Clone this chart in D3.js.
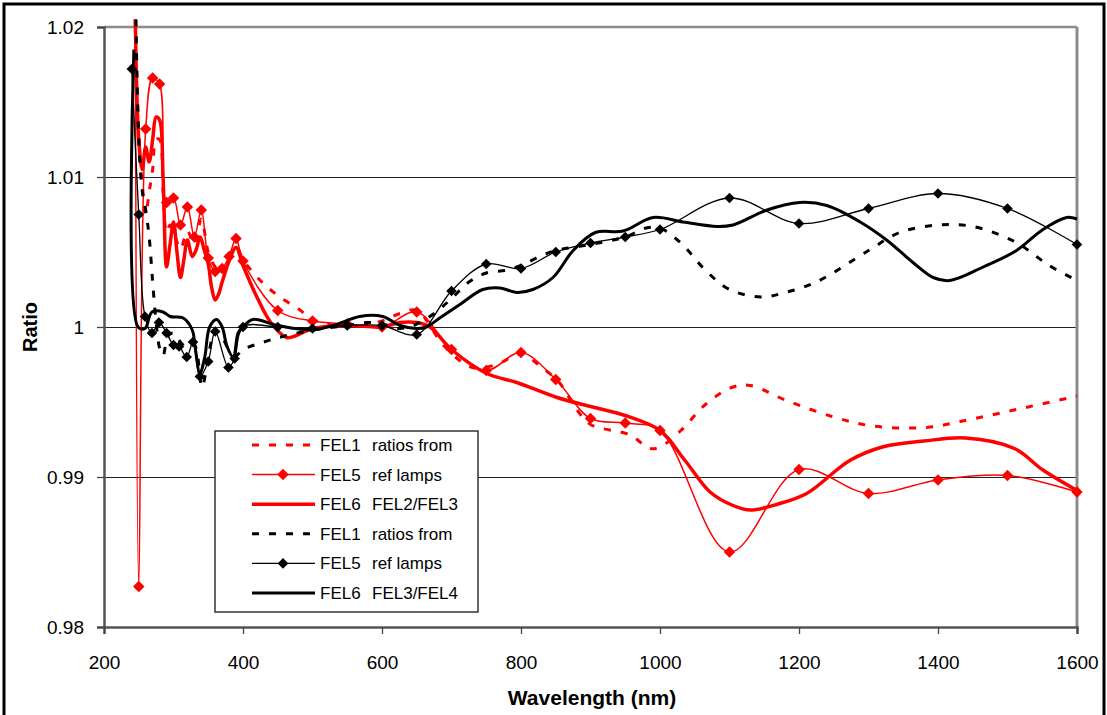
<!DOCTYPE html>
<html>
<head>
<meta charset="utf-8">
<script src="https://cdn.jsdelivr.net/npm/d3@7"></script>
<style>
  html, body { margin: 0; padding: 0; background: #fff; }
  svg { display: block; font-family: "Liberation Sans", Arial, sans-serif; }
</style>
</head>
<body>
<svg id="chart" width="1107" height="715"></svg>
<script>
// Ratios of FEL lamp calibrations, [wavelength nm, ratio]
const redFEL1 = [
  [245,1.0205],[250,1.0130],[255,1.0095],[260,1.0075],[265,1.0090],[270,1.0105],[275,1.0125],[280,1.0125],
  [285,1.0090],[290,1.0063],[295,1.0068],[300,1.0064],[310,1.0052],[320,1.0064],[330,1.0055],[340,1.0072],
  [350,1.0050],[360,1.0040],[370,1.0036],[380,1.0046],[390,1.0054],[400,1.0045],[425,1.0031],[450,1.0021],
  [480,1.0012],[500,1.0005],[550,1.0000],[600,1.0004],[626,1.0009],[650,1.0011],[690,0.9987],[730,0.9973],
  [765,0.9975],[800,0.9982],[830,0.9973],[855,0.9963],[880,0.9945],[900,0.9935],[957,0.9928],[985,0.9919],
  [1000,0.9920],[1030,0.9931],[1067,0.9949],[1105,0.9960],[1130,0.9961],[1182,0.9951],[1250,0.9940],
  [1306,0.9934],[1384,0.9933],[1432,0.9937],[1513,0.9945],[1600,0.9954]
];
const redFEL5 = [
  [245,1.0205],[250,0.9827],[260,1.0132],[270,1.0166],[280,1.0162],[290,1.0083],[300,1.0086],[310,1.0068],
  [320,1.0080],[330,1.0060],[340,1.0078],[350,1.0046],[360,1.0037],[370,1.0039],[380,1.0047],[390,1.0059],
  [400,1.0044],[450,1.0011],[500,1.0004],[550,1.0002],[600,1.0000],[650,1.0010],[700,0.9985],[750,0.9971],
  [800,0.9983],[850,0.9965],[900,0.9939],[950,0.9936],[1000,0.9931],[1100,0.9850],[1200,0.9905],
  [1300,0.9889],[1400,0.9898],[1500,0.9901],[1600,0.9890]
];
const redFEL6 = [
  [245,1.0205],[250,1.0125],[255,1.0105],[260,1.0120],[265,1.0110],[270,1.0125],[275,1.0140],[280,1.0138],
  [285,1.0100],[290,1.0040],[295,1.0055],[300,1.0070],[305,1.0050],[310,1.0033],[315,1.0045],[320,1.0058],
  [327,1.0047],[333,1.0052],[338,1.0060],[345,1.0050],[350,1.0042],[355,1.0026],[360,1.0018],[365,1.0022],
  [370,1.0030],[380,1.0044],[390,1.0053],[400,1.0041],[420,1.0020],[440,1.0003],[463,0.9993],[480,0.9995],
  [500,0.9999],[550,1.0001],[600,1.0000],[626,1.0003],[650,1.0003],[669,1.0000],[700,0.9985],[751,0.9969],
  [794,0.9963],[852,0.9953],[900,0.9947],[950,0.9941],[1000,0.9931],[1036,0.9911],[1072,0.9890],
  [1105,0.9881],[1130,0.9878],[1170,0.9882],[1211,0.9889],[1273,0.9911],[1320,0.9920],[1380,0.9924],
  [1440,0.9926],[1510,0.9919],[1550,0.9905],[1600,0.9891]
];
const blackFEL1 = [
  [246,1.0205],[250,1.0125],[255,1.0091],[260,1.0078],[265,1.0060],[270,1.0030],[275,1.0003],[280,0.9986],
  [285,0.9981],[292,0.9994],[300,0.9996],[310,0.9990],[320,0.9986],[330,0.9988],[341,0.9960],[350,0.9980],
  [360,0.9998],[370,0.9993],[380,0.9985],[390,0.9981],[400,0.9985],[430,0.9990],[460,0.9994],[500,0.9998],
  [550,1.0001],[580,1.0003],[600,1.0002],[626,0.9999],[650,1.0002],[675,1.0009],[700,1.0019],[725,1.0030],
  [750,1.0036],[780,1.0038],[800,1.0041],[827,1.0047],[850,1.0051],[900,1.0055],[950,1.0060],[980,1.0066],
  [1000,1.0066],[1030,1.0056],[1065,1.0038],[1100,1.0025],[1145,1.0020],[1180,1.0023],[1225,1.0030],
  [1300,1.0051],[1345,1.0063],[1400,1.0068],[1450,1.0067],[1510,1.0057],[1560,1.0041],[1600,1.0031]
];
const blackFEL5 = [
  [240,1.0172],[250,1.0075],[259,1.0007],[269,0.9996],[279,1.0003],[290,0.9996],[300,0.9988],[308,0.9987],
  [319,0.9980],[328,0.9990],[338,0.9967],[350,0.9977],[360,0.9997],[379,0.9973],[388,0.9979],[400,1.0000],
  [450,1.0000],[500,0.9999],[550,1.0001],[600,1.0001],[650,0.9995],[700,1.0024],[750,1.0042],[800,1.0039],
  [850,1.0050],[900,1.0056],[950,1.0060],[1000,1.0065],[1100,1.0086],[1200,1.0069],[1300,1.0079],
  [1400,1.0089],[1500,1.0079],[1600,1.0055]
];
const blackFEL6 = [
  [243,1.0185],[249,1.0000],[259,0.9999],[269,1.0010],[285,1.0010],[295,1.0007],[314,1.0006],[327,0.9998],
  [331,0.9987],[338,0.9969],[345,0.9980],[352,1.0000],[362,1.0005],[370,1.0000],[377,0.9987],[386,0.9980],
  [393,0.9996],[400,1.0000],[414,1.0005],[450,1.0001],[500,0.9998],[530,1.0001],[568,1.0007],[601,1.0007],
  [626,1.0001],[650,0.9999],[664,1.0000],[683,1.0006],[712,1.0015],[745,1.0025],[770,1.0026],[794,1.0023],
  [817,1.0025],[846,1.0033],[875,1.0051],[907,1.0063],[947,1.0064],[990,1.0073],[1033,1.0070],[1082,1.0067],
  [1105,1.0068],[1154,1.0078],[1201,1.0083],[1240,1.0081],[1288,1.0070],[1326,1.0058],[1364,1.0043],
  [1393,1.0033],[1417,1.0031],[1465,1.0040],[1513,1.0051],[1551,1.0065],[1585,1.0073],[1600,1.0072]
];

const xTicks = [200, 400, 600, 800, 1000, 1200, 1400, 1600];
const yTicks = [0.98, 0.99, 1.00, 1.01, 1.02];
const yTickLabels = ["0.98", "0.99", "1", "1.01", "1.02"];
const gridValues = [0.99, 1.00, 1.01];
const legendLabels = [
  ["FEL1", "ratios from"], ["FEL5", "ref lamps"], ["FEL6", "FEL2/FEL3"],
  ["FEL1", "ratios from"], ["FEL5", "ref lamps"], ["FEL6", "FEL3/FEL4"]
];

const svg = d3.select("#chart");
const plot = { left: 104, right: 1077, top: 27, bottom: 627 };

const x = d3.scaleLinear().domain([200, 1600]).range([plot.left, plot.right]);
const y = d3.scaleLinear().domain([0.98, 1.02]).range([plot.bottom, plot.top]);

// outer frame
svg.append("rect").attr("x", 4).attr("y", 4).attr("width", 1100).attr("height", 720)
  .attr("fill", "#fff").attr("stroke", "#000").attr("stroke-width", 3);

// gridlines
svg.append("g").selectAll("line").data(gridValues).join("line")
  .attr("x1", plot.left).attr("x2", plot.right)
  .attr("y1", d => y(d) + 0.5).attr("y2", d => y(d) + 0.5)
  .attr("stroke", "#222").attr("stroke-width", 1);

// plot frame top/right
svg.append("line").attr("x1", plot.left).attr("x2", plot.right).attr("y1", plot.top).attr("y2", plot.top)
  .attr("stroke", "#8c8c8c").attr("stroke-width", 2.5);
svg.append("line").attr("x1", plot.right).attr("x2", plot.right).attr("y1", plot.top).attr("y2", plot.bottom)
  .attr("stroke", "#8c8c8c").attr("stroke-width", 3);

// axes
const yAxis = d3.axisLeft(y).tickValues(yTicks).tickSize(7).tickPadding(13)
  .tickFormat((d, i) => yTickLabels[i]);
const xAxis = d3.axisBottom(x).tickValues(xTicks).tickSize(7).tickPadding(22).tickFormat(d3.format("d"));

const gy = svg.append("g").attr("transform", `translate(${plot.left},0)`).call(yAxis);
const gx = svg.append("g").attr("transform", `translate(0,${plot.bottom})`).call(xAxis);
[gx, gy].forEach(g => {
  g.select(".domain").attr("stroke", "#555").attr("stroke-width", 2.5);
  g.selectAll(".tick line").attr("stroke", "#444").attr("stroke-width", 1.3);
  g.selectAll(".tick text").attr("font-size", 19).attr("fill", "#000")
    .attr("font-family", "'Liberation Sans', Arial, sans-serif");
});

// axis titles
svg.append("text").attr("transform", "translate(37,327) rotate(-90)")
  .attr("text-anchor", "middle").attr("font-size", 20).attr("font-weight", "bold").text("Ratio");
svg.append("text").attr("x", 592).attr("y", 705)
  .attr("text-anchor", "middle").attr("font-size", 21).attr("font-weight", "bold").text("Wavelength (nm)");

// series
svg.append("defs").append("clipPath").attr("id", "plotclip")
  .append("rect").attr("x", plot.left).attr("y", 18).attr("width", plot.right - plot.left + 6).attr("height", plot.bottom - 18);

const line = d3.line().x(d => x(d[0])).y(d => y(d[1])).curve(d3.curveCatmullRom.alpha(0.5));

const series = [
  { data: redFEL1, color: "#ff0000", width: 3, dash: "7,10", marker: false, size: 0 },
  { data: redFEL5, color: "#ff0000", width: 1.5, dash: null, marker: true, size: 66 },
  { data: redFEL6, color: "#ff0000", width: 3.5, dash: null, marker: false, size: 0 },
  { data: blackFEL1, color: "#000000", width: 3, dash: "7,10", marker: false, size: 0 },
  { data: blackFEL5, color: "#000000", width: 1.3, dash: null, marker: true, size: 56 },
  { data: blackFEL6, color: "#000000", width: 3, dash: null, marker: false, size: 0 }
];

const gSeries = svg.append("g").attr("clip-path", "url(#plotclip)");
series.forEach(s => {
  gSeries.append("path").attr("d", line(s.data)).attr("fill", "none")
    .attr("stroke", s.color).attr("stroke-width", s.width)
    .attr("stroke-dasharray", s.dash).attr("stroke-linejoin", "round");
  if (s.marker) {
    const diamond = d3.symbol().type(d3.symbolSquare).size(s.size);
    gSeries.append("g").selectAll("path").data(s.data.filter(d => d[1] <= 1.02)).join("path")
      .attr("d", diamond)
      .attr("transform", d => `translate(${x(d[0])},${y(d[1])}) rotate(45)`)
      .attr("fill", s.color);
  }
});

// legend
const lg = svg.append("g");
lg.append("rect").attr("x", 215).attr("y", 431).attr("width", 263).attr("height", 181)
  .attr("fill", "#fff").attr("stroke", "#333").attr("stroke-width", 1.5);
series.forEach((s, i) => {
  const cy = 445 + i * 29.6;
  lg.append("line").attr("x1", 252).attr("x2", 315).attr("y1", cy).attr("y2", cy)
    .attr("stroke", s.color).attr("stroke-width", s.width).attr("stroke-dasharray", s.dash);
  if (s.marker) {
    lg.append("path").attr("d", d3.symbol().type(d3.symbolSquare).size(s.size))
      .attr("transform", `translate(283,${cy}) rotate(45)`).attr("fill", s.color);
  }
  lg.append("text").attr("x", 320).attr("y", cy + 6).attr("font-size", 17).text(legendLabels[i][0]);
  lg.append("text").attr("x", 372).attr("y", cy + 6).attr("font-size", 17).text(legendLabels[i][1]);
});
</script>
</body>
</html>
